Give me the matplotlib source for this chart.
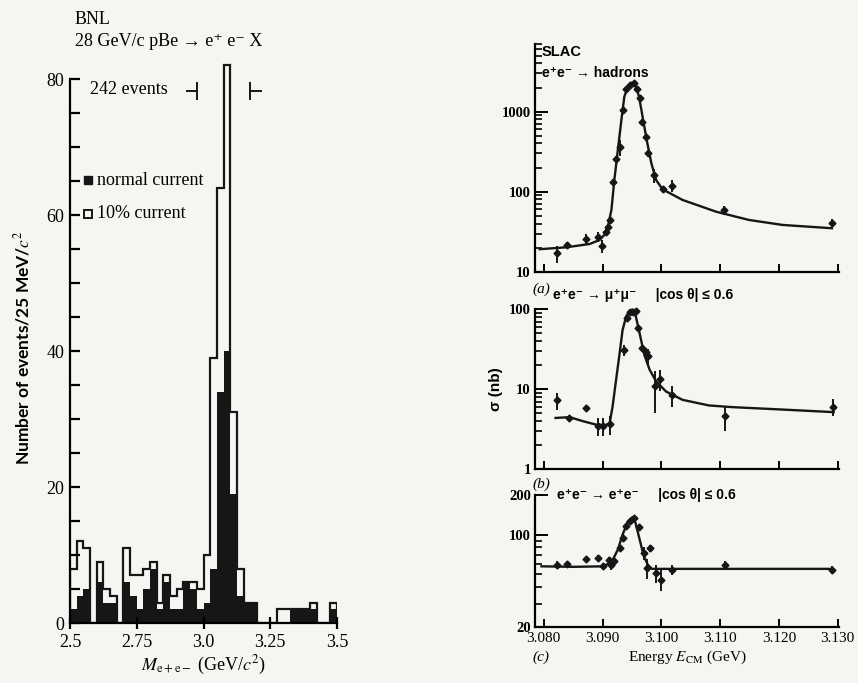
import numpy as np
import matplotlib.pyplot as plt
from matplotlib.ticker import FixedLocator, NullFormatter

plt.rcParams['font.family'] = ['Liberation Serif', 'DejaVu Serif']
plt.rcParams['mathtext.fontset'] = 'stix'
plt.rcParams['axes.linewidth'] = 1.6

INK = '#161616'
PAPER = '#f6f5f2'
SANS = ['Liberation Sans', 'DejaVu Sans']

# ---- BNL: e+e- pairs, 25 MeV bins from 2.5 to 3.5 GeV/c^2 ----
m_start = 2.5
m_bin = 0.025
n_total = [8, 12, 11, 0, 9, 5, 4, 0, 11, 7,
           7, 8, 9, 3, 7, 4, 5, 6, 6, 5,
           10, 39, 64, 82, 31, 8, 3, 3, 0, 0,
           0, 2, 2, 2, 2, 2, 3, 0, 0, 3]
n_normal = [2, 4, 5, 0, 6, 3, 3, 0, 6, 4,
            2, 5, 8, 2, 6, 2, 2, 6, 5, 2,
            3, 8, 34, 40, 19, 4, 3, 3, 0, 0,
            0, 0, 0, 2, 2, 2, 2, 0, 0, 2]
peak_window = (2.975, 3.175)

# ---- SLAC: e+e- -> hadrons ----
E_had = [3.0823, 3.0839, 3.0872, 3.0892, 3.0899, 3.0906, 3.0910, 3.0913,
         3.0917, 3.0923, 3.0930, 3.0934, 3.0940, 3.0946, 3.0953, 3.0958,
         3.0963, 3.0967, 3.0974, 3.0978, 3.0988, 3.1002, 3.1018, 3.1107, 3.1290]
sig_had = [17, 21.6, 25.4, 27.4, 20.9, 31.6, 36.5, 44,
           133, 258, 362, 1040, 1900, 2150, 2260, 1900,
           1480, 750, 487, 302, 160, 107, 118, 59, 41]
err_had = [4, 2, 4, 4, 4, 3, 3, 4,
           10, 20, 80, 60, 100, 100, 100, 100,
           80, 50, 30, 20, 30, 10, 20, 8, 5]
E_had_fit = [3.0793, 3.0839, 3.0878, 3.0895, 3.0903, 3.0909, 3.0915, 3.0920,
             3.0926, 3.0932, 3.0937, 3.0943, 3.0950, 3.0956, 3.0962, 3.0968,
             3.0975, 3.0983, 3.0991, 3.1002, 3.1036, 3.1093, 3.1149, 3.1206, 3.1290]
sig_had_fit = [19.1, 20.2, 22.2, 24.9, 28.8, 36.5, 59, 140,
               333, 787, 1540, 2050, 2300, 2140, 1540, 866,
               443, 226, 140, 107, 78.8, 56.2, 44.3, 38.4, 34.9]

# ---- SLAC: e+e- -> mu+mu- ----
E_mu = [3.0823, 3.0843, 3.0871, 3.0892, 3.0901, 3.0913, 3.0936, 3.0942,
        3.0946, 3.0951, 3.0956, 3.0961, 3.0967, 3.0973, 3.0977, 3.0989,
        3.0998, 3.1018, 3.1108, 3.1292]
sig_mu = [7.3, 4.4, 5.9, 3.5, 3.5, 3.7, 31, 77,
          93.6, 93.6, 95, 58, 32.6, 29.7, 26.2, 11,
          13.5, 8.6, 4.6, 6.1]
err_mu = [1.8, 0.3, 0.5, 0.9, 0.9, 1.0, 5, 5,
          5, 5, 5, 4, 3, 3, 6, 6,
          4, 2.5, 1.6, 1.5]
E_mu_fit = [3.0820, 3.0844, 3.0867, 3.0889, 3.0906, 3.0912, 3.0917, 3.0923,
            3.0929, 3.0934, 3.0940, 3.0946, 3.0951, 3.0956, 3.0963, 3.0971,
            3.0980, 3.0991, 3.1008, 3.1036, 3.1081, 3.1121, 3.1206, 3.1293]
sig_mu_fit = [4.4, 4.5, 4.0, 3.63, 3.6, 3.8, 6.1, 13.2,
              28.3, 55, 81, 96, 99, 85, 50, 27,
              17.6, 12.6, 9.4, 7.4, 6.3, 6.0, 5.6, 5.2]

# ---- SLAC: e+e- -> e+e- ----
E_ee = [3.0823, 3.0840, 3.0872, 3.0893, 3.0901, 3.0911, 3.0915, 3.0919,
        3.0929, 3.0934, 3.0940, 3.0946, 3.0953, 3.0962, 3.0970, 3.0980,
        3.0975, 3.0990, 3.1000, 3.1018, 3.1108, 3.1290]
sig_ee = [59, 60, 65, 66.6, 57.5, 64.6, 59, 62.7,
          79, 94, 116, 126, 134, 114, 72.6, 79,
          55.8, 51, 45.5, 54, 59, 54]
err_ee = [4, 2, 3, 3, 3, 3, 5, 3,
          4, 4, 5, 5, 5, 5, 8, 5,
          10, 8, 8, 5, 4, 4]
E_ee_fit = [3.0796, 3.0850, 3.0900, 3.0915, 3.0926, 3.0934, 3.0943, 3.0951,
            3.0956, 3.0963, 3.0970, 3.0977, 3.0984, 3.0995, 3.1100, 3.1290]
sig_ee_fit = [57.5, 57.0, 57.5, 61.5, 77, 100, 126, 136,
              123, 92, 69, 59, 55, 55, 55, 55]

E_ticks = [3.080, 3.090, 3.100, 3.110, 3.120, 3.130]
E_range = (3.0785, 3.1302)

fig = plt.figure(figsize=(8.58, 6.83), dpi=100, facecolor=PAPER)

# ================= left: mass histogram =================
ax = fig.add_axes([0.0816, 0.0878, 0.3112, 0.8264], facecolor='none')
edges = m_start + m_bin * np.arange(len(n_total) + 1)
ax.bar(edges[:-1], n_normal, width=m_bin, align='edge', color=INK, lw=0)
ax.stairs(n_total, edges, color=INK, lw=1.6)
ax.set_xlim(2.5, 3.5)
ax.set_ylim(0, 83)
for s in ('top', 'right'):
    ax.spines[s].set_visible(False)
ax.spines['left'].set_bounds(0, 80)
ax.set_xticks([2.5, 2.75, 3.0, 3.25, 3.5])
ax.set_xticklabels(['2.5', '2.75', '3.0', '3.25', '3.5'], fontsize=13)
ax.set_yticks([0, 20, 40, 60, 80])
ax.set_yticklabels(['0', '20', '40', '60', '80'], fontsize=13)
ax.yaxis.set_minor_locator(FixedLocator(np.arange(5, 80, 5)))
ax.tick_params(axis='y', which='both', direction='in', length=7, width=1.6, pad=4)
ax.tick_params(axis='x', which='major', direction='inout', length=8, width=1.6, pad=4)
ax.set_xlabel(r'$M_{\mathrm{e+e-}}$ (GeV/$c^2$)', fontsize=13, labelpad=2)

# 242 events bracket
lo, hi = peak_window
ax.plot([lo, lo], [77.0, 79.4], color=INK, lw=1.4, clip_on=False)
ax.plot([lo - 0.035, lo], [78.2, 78.2], color=INK, lw=1.4, clip_on=False)
ax.plot([hi, hi], [77.0, 79.4], color=INK, lw=1.4, clip_on=False)
ax.plot([hi, hi + 0.04], [78.2, 78.2], color=INK, lw=1.4, clip_on=False)
ax.text(2.576, 78.4, '242 events', fontsize=13, va='center', ha='left')

# legend
ax.plot([2.569], [65.1], marker='s', ms=6, color=INK, ls='none')
ax.plot([2.569], [60.2], marker='s', ms=6, mfc='none', mec=INK, mew=1.4, ls='none')
ax.text(2.60, 65.1, 'normal current', fontsize=13, va='center')
ax.text(2.60, 60.2, '10% current', fontsize=13, va='center')

fig.text(22 / 858, 1 - 348 / 683, 'Number of events/25 MeV/$c^2$', rotation=90,
         ha='center', va='center', fontsize=12.5, family=['Lato', 'DejaVu Sans'],
         weight='bold')
fig.text(75 / 858, 1 - 19 / 683, 'BNL', fontsize=13, va='center')
fig.text(75 / 858, 1 - 42 / 683, '28 GeV/c pBe → e⁺ e⁻ X', fontsize=13, va='center')


# ================= right: SLAC cross sections =================
def slac_panel(rect, ylim, yticks, yminor):
    a = fig.add_axes(rect, facecolor='none')
    a.set_yscale('log')
    a.set_xlim(*E_range)
    a.set_ylim(*ylim)
    for s in ('top', 'right'):
        a.spines[s].set_visible(False)
    a.set_xticks(E_ticks)
    a.set_yticks(yticks)
    a.set_yticklabels([str(t) for t in yticks], fontsize=10.5, weight='bold')
    a.yaxis.set_minor_locator(FixedLocator(yminor))
    a.yaxis.set_minor_formatter(NullFormatter())
    a.tick_params(axis='y', which='major', direction='in', length=9, width=1.4, pad=3)
    a.tick_params(axis='y', which='minor', direction='in', length=5, width=1.2)
    a.tick_params(axis='x', which='major', direction='in', length=6, width=1.4)
    return a


def draw_series(a, E, sig, err, E_fit, sig_fit):
    a.plot(E_fit, sig_fit, color=INK, lw=1.7, clip_on=False)
    a.errorbar(E, sig, yerr=err, fmt='D', ms=3.5, color=INK, ecolor=INK,
               elinewidth=1.4, capsize=0, clip_on=False)


minor_a = [m * 10 ** d for d in (1, 2, 3) for m in range(2, 10) if m * 10 ** d <= 7000]
axa = slac_panel([0.6235, 0.6022, 0.3543, 0.3334], (10, 7000), [10, 100, 1000], minor_a)
axa.set_xticklabels([])
draw_series(axa, E_had, sig_had, err_had, E_had_fit, sig_had_fit)
axa.text(3.0797, 5600, 'SLAC', fontsize=10.5, family=SANS, weight='bold', va='center')
axa.text(3.0797, 3050, 'e⁺e⁻ → hadrons', fontsize=10, family=SANS, weight='bold', va='center')

minor_b = [m * 10 ** d for d in (0, 1) for m in range(2, 10)]
axb = slac_panel([0.6235, 0.3126, 0.3543, 0.2346], (1, 100), [1, 10, 100], minor_b)
axb.set_xticklabels([])
draw_series(axb, E_mu, sig_mu, err_mu, E_mu_fit, sig_mu_fit)
axb.set_ylabel('σ (nb)', fontsize=11, family=SANS, weight='bold', labelpad=4)

minor_c = [30, 40, 50, 60, 70, 80, 90]
axc = slac_panel([0.6235, 0.0824, 0.3543, 0.1928], (20, 200), [20, 100, 200], minor_c)
axc.set_xticklabels(['%.3f' % t for t in E_ticks], fontsize=11)
draw_series(axc, E_ee, sig_ee, err_ee, E_ee_fit, sig_ee_fit)
axc.set_xlabel('Energy $E_{\\mathrm{CM}}$ (GeV)', fontsize=11, labelpad=3)

# panel titles and letters
fig.text(553 / 858, 1 - 295 / 683, 'e⁺e⁻ → μ⁺μ⁻     |cos θ| ≤ 0.6', fontsize=10,
         family=SANS, weight='bold', va='center')
fig.text(557 / 858, 1 - 495 / 683, 'e⁺e⁻ → e⁺e⁻     |cos θ| ≤ 0.6', fontsize=10,
         family=SANS, weight='bold', va='center')
for lab, y in (('(a)', 289), ('(b)', 484), ('(c)', 657)):
    fig.text(541 / 858, 1 - y / 683, lab, fontsize=11, style='italic',
             ha='center', va='center')

fig.savefig('out.png', dpi=100, facecolor=PAPER)
